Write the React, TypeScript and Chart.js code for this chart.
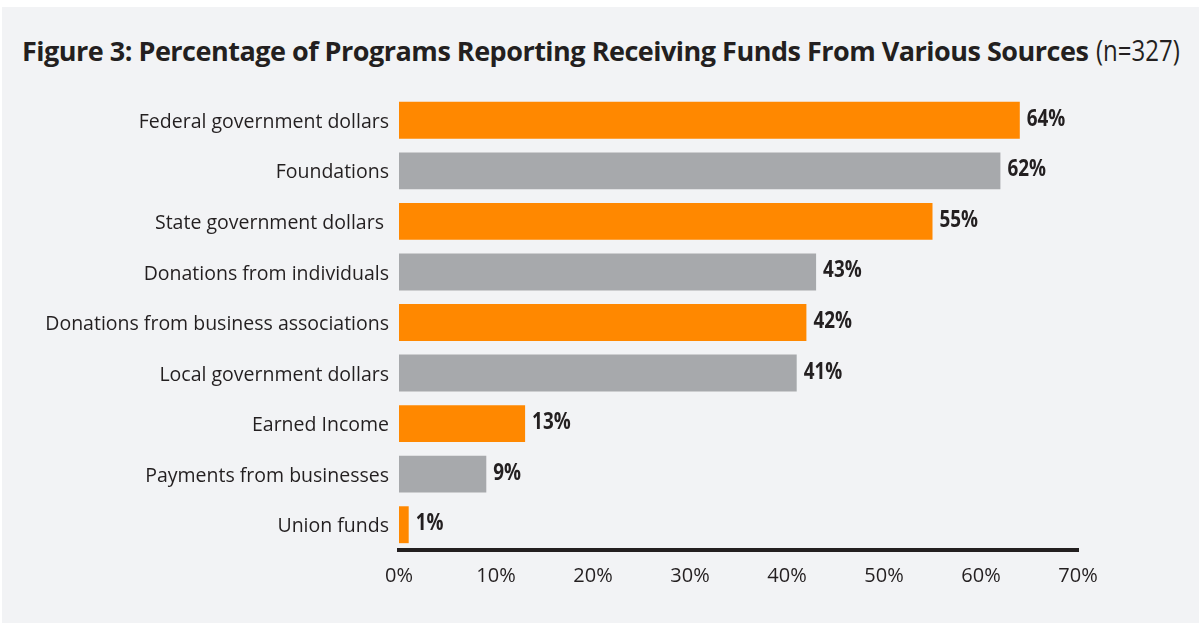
import React, { useEffect, useRef } from "react";
import { Chart, registerables } from "chart.js";

Chart.register(...registerables);

const categories = [
  "Federal government dollars",
  "Foundations",
  "State government dollars ",
  "Donations from individuals",
  "Donations from business associations",
  "Local government dollars",
  "Earned Income",
  "Payments from businesses",
  "Union funds",
];
const values = [64, 62, 55, 43, 42, 41, 13, 9, 1];
const xTicks = [0, 10, 20, 30, 40, 50, 60, 70];

const ORANGE = "#ff8800";
const GRAY = "#a7a9ac";
const INK = "#231f20";
const barColors = values.map((_, i) => (i % 2 === 0 ? ORANGE : GRAY));

const valueLabelPlugin = {
  id: "valueLabels",
  afterDatasetsDraw(chart: any) {
    const ctx = chart.ctx;
    const meta = chart.getDatasetMeta(0);
    const sx = 0.82;
    ctx.save();
    ctx.fillStyle = INK;
    ctx.font = "bold 23px 'Open Sans', sans-serif";
    ctx.textAlign = "left";
    ctx.textBaseline = "middle";
    meta.data.forEach((bar: any, i: number) => {
      ctx.save();
      ctx.translate(bar.x + 7, bar.y - 1);
      ctx.scale(sx, 1);
      ctx.fillText(values[i] + "%", 0, 0);
      ctx.restore();
    });
    ctx.restore();
  },
};

export default function App() {
  const ref = useRef<HTMLCanvasElement>(null);
  useEffect(() => {
    document.body.style.margin = "0";
    const chart = new Chart(ref.current!, {
      type: "bar",
      data: {
        labels: categories,
        datasets: [
          {
            data: values,
            backgroundColor: barColors,
            categoryPercentage: 0.73,
            barPercentage: 1,
          },
        ],
      },
      options: {
        indexAxis: "y",
        animation: false,
        responsive: false,
        layout: { padding: { left: 0, right: 122, top: 95, bottom: 24 } },
        plugins: { legend: { display: false }, tooltip: { enabled: false } },
        scales: {
          x: {
            min: 0,
            max: 70,
            afterBuildTicks: (s: any) => {
              s.ticks = xTicks.map((v) => ({ value: v }));
            },
            afterFit: (s: any) => {
              s.height = 50;
            },
            grid: { display: false, drawTicks: false },
            border: { display: true, color: INK, width: 4 },
            ticks: {
              padding: 14,
              color: INK,
              font: { family: "'Open Sans', sans-serif", size: 20 },
              callback: (v: any) => v + "%",
            },
          },
          y: {
            afterFit: (s: any) => {
              s.width = 399;
            },
            grid: { display: false, drawTicks: false },
            border: { display: false },
            ticks: {
              padding: 10,
              labelOffset: 2,
              color: INK,
              font: { family: "'Open Sans', sans-serif", size: 19.5 },
            },
          },
        },
      },
      plugins: [valueLabelPlugin],
    });
    return () => chart.destroy();
  }, []);

  return (
    <div style={{ position: "relative", width: 1200, height: 624, background: "#ffffff", overflow: "hidden" }}>
      <div style={{ position: "absolute", left: 2, top: 7, width: 1197, height: 616, background: "#f2f3f5" }} />
      <div
        style={{
          position: "absolute",
          left: 22,
          top: 30,
          whiteSpace: "nowrap",
          color: INK,
          fontSize: 27,
          lineHeight: "40px",
        }}
      >
        <span style={{ fontFamily: "'Open Sans', sans-serif", fontWeight: 700, letterSpacing: -0.5 }}>
          Figure 3: Percentage of Programs Reporting Receiving Funds From Various Sources
        </span>
        <span
          style={{
            display: "inline-block",
            marginLeft: 8,
            fontFamily: "'Open Sans', sans-serif",
            fontWeight: 400,
            fontSize: 30,
            transform: "scaleX(0.8)",
            transformOrigin: "left center",
          }}
        >
          (n=327)
        </span>
      </div>
      <canvas ref={ref} width={1200} height={624} style={{ position: "absolute", left: 0, top: 0 }} />
    </div>
  );
}
